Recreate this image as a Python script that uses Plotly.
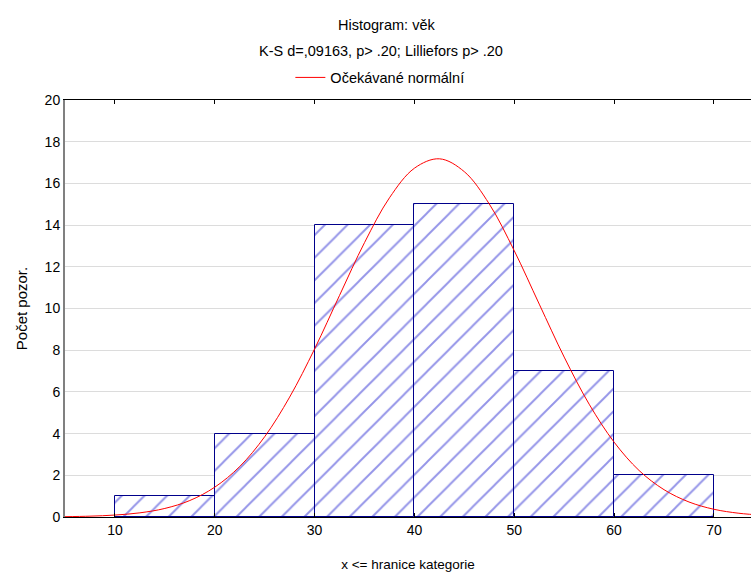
import plotly.graph_objects as go

# Histogram data (bin upper bounds and counts)
bin_left = [10, 20, 30, 40, 50, 60]
bin_right = [20, 30, 40, 50, 60, 70]
counts = [1, 4, 14, 15, 7, 2]

# Expected normal curve
curve_x = [5, 7.5, 10, 12.5, 15, 17.5, 20, 22.5, 25, 27.5, 30, 32.5, 35, 37.5, 40,
           42.5, 45, 47.5, 50, 52.5, 55, 57.5, 60, 62.5, 65, 67.5, 70, 72.5, 75]
curve_y = [0.016, 0.040, 0.093, 0.20, 0.41, 0.79, 1.43, 2.42, 3.85, 5.75, 8.06, 10.63,
           13.16, 15.31, 16.73, 17.18, 16.56, 15.01, 12.77, 10.21, 7.67, 5.41, 3.59,
           2.23, 1.31, 0.72, 0.37, 0.18, 0.082]

x_ticks = [10, 20, 30, 40, 50, 60, 70]
y_ticks = [0, 2, 4, 6, 8, 10, 12, 14, 16, 18, 20]

centers = [(a + b) / 2 for a, b in zip(bin_left, bin_right)]
widths = [b - a for a, b in zip(bin_left, bin_right)]

font = "Liberation Sans, Arial, sans-serif"

fig = go.Figure()
fig.add_trace(go.Bar(
    x=centers, y=counts, width=widths,
    marker=dict(color="white",
                line=dict(color="#00008b", width=1),
                pattern=dict(shape="/", fgcolor="#2a2ad2", bgcolor="white",
                             size=16, solidity=0.12)),
    showlegend=False, hoverinfo="skip",
))
fig.add_trace(go.Scatter(
    x=curve_x, y=curve_y, mode="lines", line=dict(color="#ff0000", width=1, shape="spline"),
    name="Očekávané normální",
))

fig.update_layout(
    width=751, height=572,
    margin=dict(l=65, r=0, t=100, b=55),
    paper_bgcolor="white", plot_bgcolor="white",
    font=dict(family=font, size=14, color="#000"),
    bargap=0,
    showlegend=True,
    legend=dict(orientation="h", x=0.459, xanchor="center", y=1.054, yanchor="middle",
                font=dict(size=14.5), bgcolor="rgba(0,0,0,0)"),
    annotations=[
        dict(text="Histogram: věk", xref="paper", yref="paper", x=0.468, y=1.18,
             xanchor="center", yanchor="middle", showarrow=False, font=dict(size=14.5)),
        dict(text="K-S d=,09163, p> .20; Lilliefors p> .20", xref="paper", yref="paper",
             x=0.461, y=1.117, xanchor="center", yanchor="middle", showarrow=False,
             font=dict(size=14.5)),
    ],
    xaxis=dict(range=[5, 73.71], tickvals=x_ticks, ticks="inside", ticklen=4,
               tickcolor="#000", showline=True, linecolor="#000", linewidth=1,
               mirror="ticks", showgrid=False, zeroline=False,
               title=dict(text="x <= hranice kategorie", standoff=23, font=dict(size=13.5)),
               tickfont=dict(size=14)),
    yaxis=dict(range=[0, 20], tickvals=y_ticks, ticks="", showline=True,
               linecolor="#808080", linewidth=2, showgrid=True, gridcolor="#dcdcdc",
               gridwidth=1, zeroline=False,
               title=dict(text="Počet pozor.", standoff=13, font=dict(size=15)),
               tickfont=dict(size=14)),
)

fig.write_html("out.html")
